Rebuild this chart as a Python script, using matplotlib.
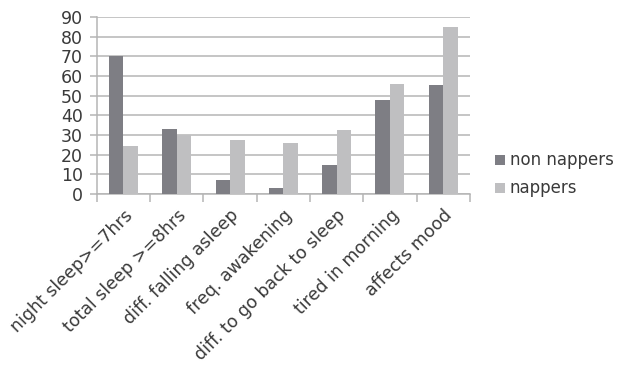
import matplotlib
matplotlib.use('Agg')
import matplotlib.pyplot as plt
import matplotlib.transforms as mtransforms
import numpy as np

categories = ['night sleep>=7hrs', 'total sleep >=8hrs', 'diff. falling asleep',
              'freq. awakening', 'diff. to go back to sleep', 'tired in morning',
              'affects mood']
non_nappers = [70, 33, 7, 3, 14.5, 48, 55.5]
nappers = [24.5, 30, 27.5, 26, 32.5, 56, 85]
series_names = ['non nappers', 'nappers']

plt.rcParams['font.family'] = ['DejaVu Sans']
text_col = '#3a3a3a'
line_col = '#b5b5b5'

fig = plt.figure(figsize=(6.2, 3.7), dpi=100)
ax = fig.add_axes([0.156, 0.476, 0.602, 0.478])

x = np.arange(len(categories))
w = 0.272
ax.bar(x - w / 2, non_nappers, w, color='#7e7e84', label=series_names[0], zorder=3)
ax.bar(x + w / 2, nappers, w, color='#bfbfc1', label=series_names[1], zorder=3)

ax.set_xlim(-0.5, len(categories) - 0.5)
ax.set_ylim(0, 90)
ax.set_yticks(range(0, 91, 10))
ax.yaxis.grid(True, color=line_col, linewidth=1.1, zorder=0)

# category labels sit at the centres, tick marks at the boundaries
ax.set_xticks(x)
ax.set_xticklabels(categories, rotation=45, ha='right', va='top',
                   rotation_mode='anchor', fontsize=12.5, color=text_col)
shift = mtransforms.ScaledTranslation(9 / 100, 0, fig.dpi_scale_trans)
for lbl in ax.get_xticklabels():
    lbl.set_transform(lbl.get_transform() + shift)
ax.set_xticks(np.arange(-0.5, len(categories)), minor=True)
ax.tick_params(axis='x', which='major', length=0, pad=9)
ax.tick_params(axis='x', which='minor', length=6, color=line_col, width=1.1)
ax.tick_params(axis='y', length=5, color=line_col, width=1.1,
               labelsize=12.5, labelcolor=text_col, pad=5)

for side in ['top', 'right']:
    ax.spines[side].set_visible(False)
for side in ['left', 'bottom']:
    ax.spines[side].set_color(line_col)
    ax.spines[side].set_linewidth(1.1)

ax.legend(loc='center left', bbox_to_anchor=(1.068, 0.11), frameon=False,
          fontsize=12, labelcolor=text_col, handlelength=0.55,
          handleheight=0.55, handletextpad=0.3, labelspacing=0.6,
          borderpad=0, borderaxespad=0)

fig.savefig('out.png', dpi=100)
